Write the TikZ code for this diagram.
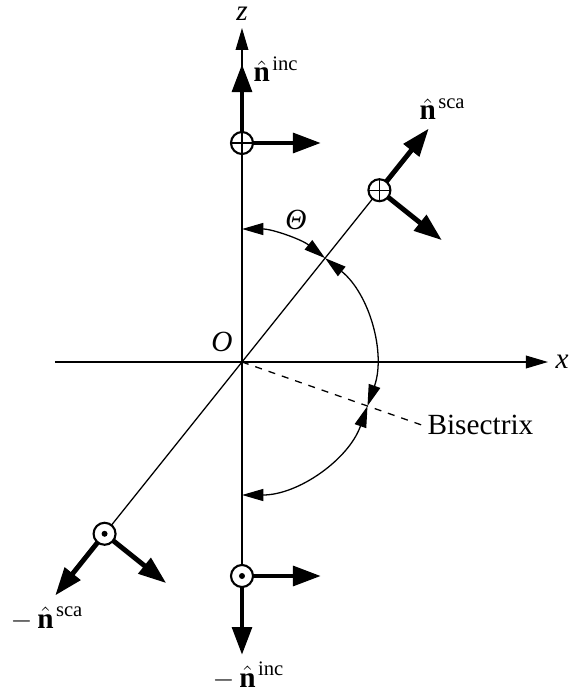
\documentclass[tikz,border=0pt]{standalone}
\usepackage{fontspec}
\setmainfont{Liberation Serif}
\usetikzlibrary{arrows.meta}

\newcommand{\nvec}{$\hat{\textbf{n}}$}
\newcommand{\nlab}[1]{\nvec\kern1pt\raisebox{4.7pt}{\fontsize{8.8}{10}\selectfont #1}}

\begin{document}
\begin{tikzpicture}[x=0.015cm,y=0.015cm,line width=0.55pt,
  font=\fontsize{12.5}{15}\selectfont,
  ax/.style={-{Triangle[length=0.33cm,width=0.19cm]}},
  ang/.style={{Triangle[length=0.32cm,width=0.18cm]}-{Triangle[length=0.32cm,width=0.18cm]}},
  vec/.style={line width=2.1pt,-{Triangle[length=0.42cm,width=0.29cm]}},
  pol/.style={line width=0.9pt,fill=white},
  lab/.style={anchor=base west,inner sep=0pt}]
\useasboundingbox (-242,-331) rectangle (327,362);
% points on the two directions
\coordinate (O) at (0,0);
\coordinate (Pi) at (0,219);
\coordinate (Qi) at (0,-214);
\coordinate (Ps) at (51.34:220);
\coordinate (Qs) at (231.34:220);
% axes
\draw[ax] (Qi) -- (0,334);
\draw[ax] (-187,0) -- (306,0);
\draw (Qs) -- (Ps);
\draw[dashed] (O) -- (-19.33:191) coordinate (B);
% angles
\draw[ang] (90:133) arc (90:51.34:133);
\draw[ang] (51.34:133) arc (51.34:-19.33:133);
\draw[ang] (-19.33:133) arc (-19.33:-90:133);
% unit vectors
\draw[vec] (Pi) -- ++(90:79);
\draw[vec] (Pi) -- ++(0:79);
\draw[vec] (Qi) -- ++(-90:79);
\draw[vec] (Qi) -- ++(0:79);
\draw[vec] (Ps) -- ++(51.34:79);
\draw[vec] (Ps) -- ++(-38.66:80);
\draw[vec] (Qs) -- ++(231.34:79);
\draw[vec] (Qs) -- ++(-38.66:79);
% polarisation marks
\draw[pol] (Pi) circle (11);
\draw (Pi) ++(-11,0) -- ++(22,0) (Pi) ++(0,-11) -- ++(0,22);
\draw[pol] (Ps) circle (11);
\draw (Ps) ++(-11,0) -- ++(22,0) (Ps) ++(0,-11) -- ++(0,22);
\draw[pol] (Qi) circle (11);
\fill (Qi) circle (3);
\draw[pol] (Qs) circle (11);
\fill (Qs) circle (3);
% labels
\node[inner sep=0pt] at (0,348) {\textit{z}};
\node[inner sep=1pt] at (320,0) {\textit{x}};
\node at (-20,20) {\textit{O}};
\node at (54,142) {\textit{Θ}};
\node[anchor=west,inner sep=2pt] at (B) {Bisectrix};
\node[lab] at (11,280) {\nlab{inc}};
\node[lab] at (177,242) {\nlab{sca}};
\node[lab] at (-232,-266) {$-$\,\nlab{sca}};
\node[lab] at (-30,-325) {$-$\,\nlab{inc}};
\end{tikzpicture}
\end{document}
